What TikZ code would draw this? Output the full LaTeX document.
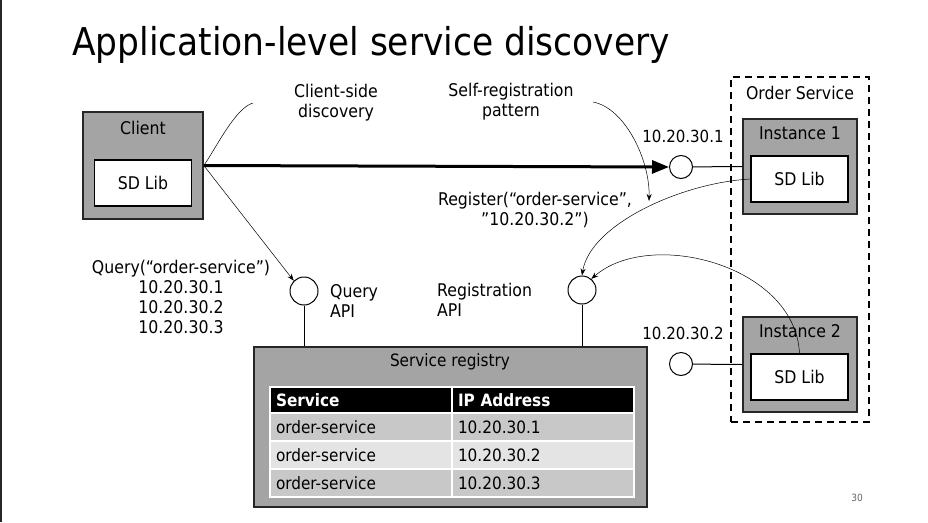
\documentclass[tikz,border=0pt]{standalone}
\usepackage{fontspec}
\setmainfont{DejaVu Sans Condensed}
\usetikzlibrary{arrows.meta}

\definecolor{boxgray}{HTML}{A4A4A4}
\definecolor{rowdark}{HTML}{C8C8C8}
\definecolor{rowlight}{HTML}{E4E4E4}

\begin{document}
\begin{tikzpicture}[x=1pt,y=-1pt,
	txt/.style={font=\fontsize{17.5}{20}\selectfont, inner sep=0pt, align=center},
	hostbox/.style={draw=black!85, line width=1.6pt, fill=boxgray, inner sep=0pt},
	libbox/.style={draw=black, line width=1.6pt, fill=white, inner sep=0pt,
		minimum width=97pt, minimum height=46pt, font=\fontsize{17.5}{20}\selectfont},
	port/.style={circle, draw, line width=1pt, fill=white, inner sep=0pt, minimum size=#1},
	port/.default=23pt,
	link/.style={line width=1pt},
	note/.style={line width=0.5pt},
	call/.style={line width=0.5pt, -{Stealth[length=7pt,width=5pt]}},
	cell/.style={draw=white, line width=1.5pt, inner xsep=6pt, inner ysep=0pt,
		text width=170pt, align=left, minimum height=#1, font=\fontsize{17}{20}\selectfont},
	cell/.default=28pt
	]
	\useasboundingbox (0,0) rectangle (928,522);
	\fill[white] (0,0) rectangle (928,522);
	\draw[line width=2pt, black!85] (1,0) -- (1,522);

	% title
	\node[anchor=base west, inner sep=0pt, font=\fontsize{38.3}{42}\selectfont] (title) at (72,55)
		{Application-level service discovery};

	% client
	\node[hostbox, minimum width=120pt, minimum height=107pt] (client) at (143,165.5) {};
	\node[txt] (clientlbl) at (143,128) {Client};
	\node[libbox] (clientlib) at (143,183) {SD Lib};

	% order service
	\node[draw, line width=1.6pt, dash pattern=on 7pt off 5pt, minimum width=138pt,
		minimum height=345pt, inner sep=0pt] (ordersvc) at (800,249.5) {};
	\node[txt] (orderlbl) at (800,93) {Order Service};
	\foreach \i/\y in {1/166.5, 2/364.5} {
		\node[hostbox, minimum width=114pt, minimum height=95pt] (inst\i) at (800,\y) {};
		\node[txt] (inst\i lbl) at (800,\y-33) {Instance \i};
		\node[libbox] (lib\i) at (799.5,\y+12.5) {SD Lib};
	}

	% instance ports
	\node[port] (port1) at (681,167) {};
	\node[port] (port2) at (681,364) {};
	\node[txt, font=\fontsize{16.7}{20}\selectfont] (ip1) at (683,136) {10.20.30.1};
	\node[txt, font=\fontsize{16.7}{20}\selectfont] (ip2) at (683,333) {10.20.30.2};
	\draw[link] (port1) -- (inst1.west);
	\draw[link] (port2) -- (inst2.west);

	% service registry
	\node[hostbox, minimum width=393pt, minimum height=160pt] (registry) at (450.5,427) {};
	\node[txt, font=\fontsize{17}{20}\selectfont] (reglbl) at (450,362) {Service registry};
	\node[cell=26pt, fill=black, text=white, font=\fontsize{17}{20}\selectfont\bfseries]
		(hsvc) at (361,400) {Service};
	\node[cell=26pt, fill=black, text=white, font=\fontsize{17}{20}\selectfont\bfseries]
		(hip) at (543,400) {IP Address};
	\foreach \r/\y/\c in {1/427/rowdark, 2/455/rowlight, 3/483/rowdark} {
		\node[cell, fill=\c] (svc\r) at (361,\y) {order-service};
		\node[cell, fill=\c] (ip\r row) at (543,\y) {10.20.30.\r};
	}

	% APIs
	\node[port=28pt] (query) at (304,291) {};
	\node[port=28pt] (regapi) at (582,290) {};
	\node[txt, align=left, anchor=west] (querylbl) at (330,301) {Query\\API};
	\node[txt, align=left, anchor=west] (regapilbl) at (437,300) {Registration\\API};
	\draw[link] (query) -- (query |- registry.north);
	\draw[link] (regapi) -- (regapi |- registry.north);

	% discovery
	\draw[line width=3pt, -{Triangle[length=17pt,width=13pt]}] (client.east) -- (port1.west);
	\draw[call] (client.east) -- (query.135);
	\node[txt] (querytxt) at (181,297)
		{Query(“order-service”)\\10.20.30.1\\10.20.30.2\\10.20.30.3};
	\node[txt] (cside) at (336,103) {Client-side\\discovery};
	\coordinate (csidend) at (253,103);
	\draw[note] (csidend) .. controls (235,108) and (215,150) .. (client.east);

	% registration
	\node[txt] (selfreg) at (511,102) {Self-registration\\pattern};
	\coordinate (selfend) at (593,102);
	\draw[call] (selfend) .. controls (625,108) and (650,160) .. (649,201);
	\node[txt] (regtxt) at (535,210) {Register(“order-service”,\\”10.20.30.2”)};
	\draw[call] (lib1.west) .. controls (680,183) and (590,225) .. (regapi.north);
	\draw[call] (lib2.north) .. controls (795,265) and (650,228) .. (regapi.50);

	% page number
	\node[inner sep=0pt, text=black!60, font=\fontsize{10}{12}\selectfont] (page) at (857,498) {30};
\end{tikzpicture}
\end{document}
